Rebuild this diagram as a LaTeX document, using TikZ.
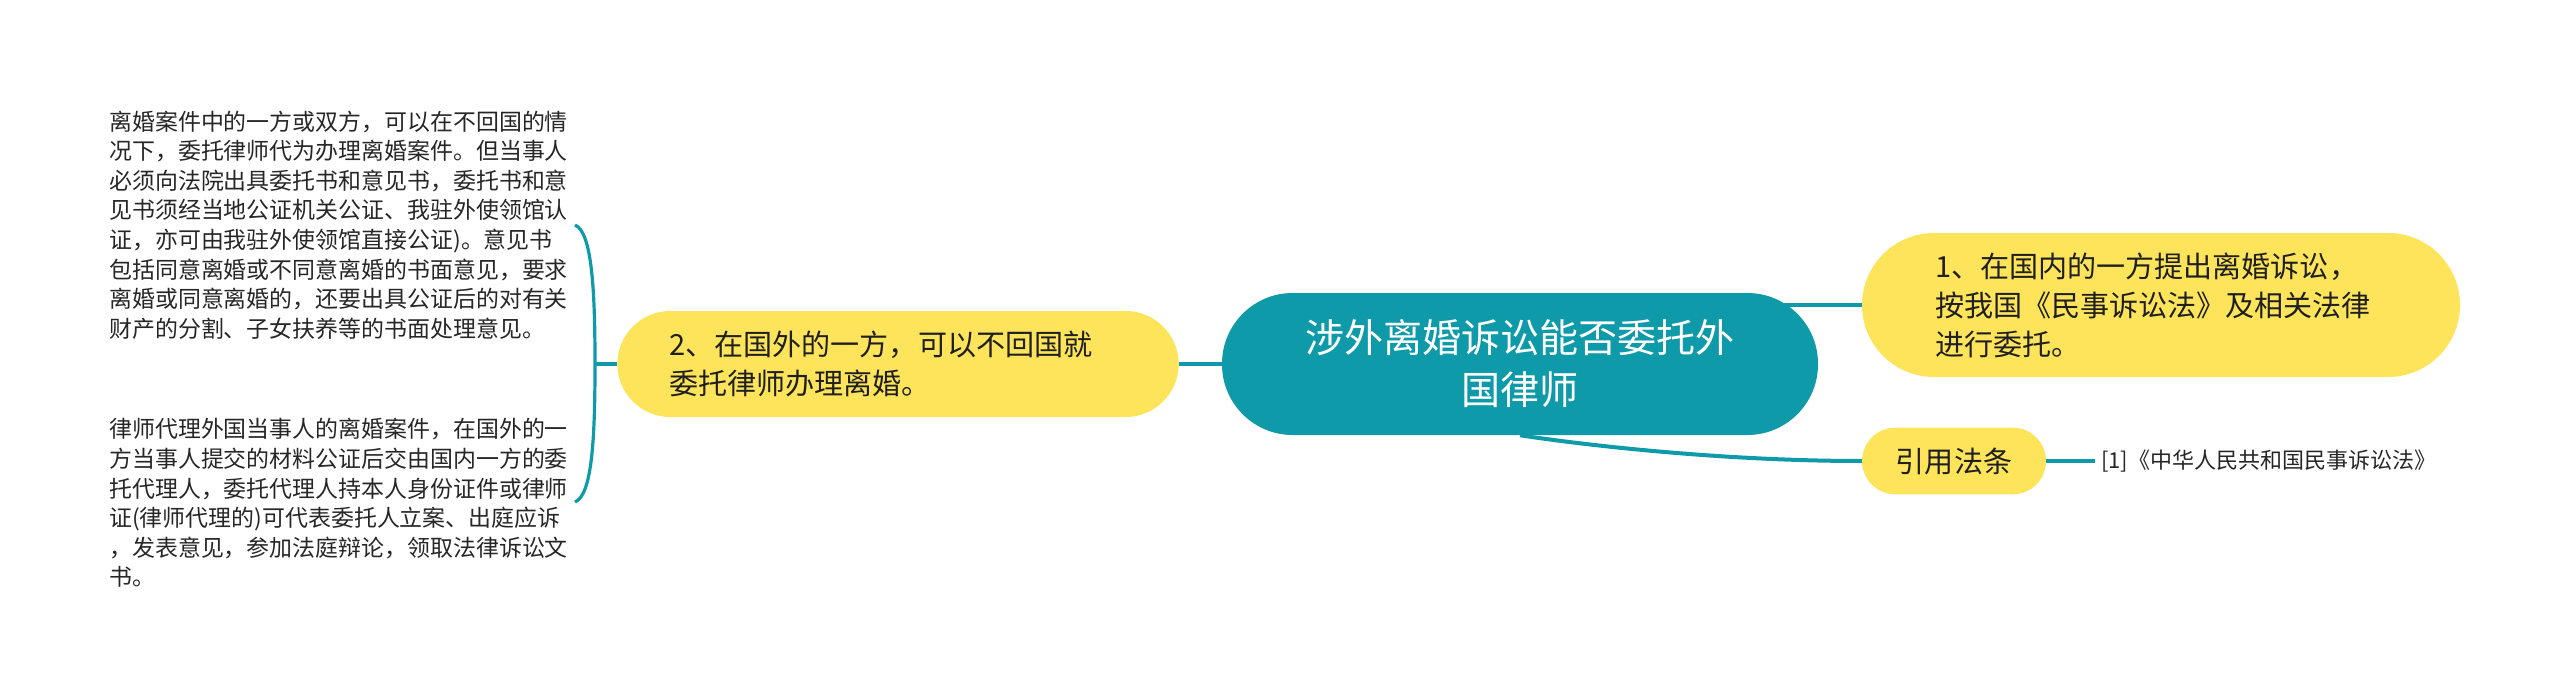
\documentclass[tikz,border=0pt]{standalone}
\usepackage{fontspec}
\setmainfont{Noto Sans CJK SC}
\usetikzlibrary{backgrounds}

\definecolor{mapteal}{HTML}{0E9AA8}
\definecolor{mapyellow}{HTML}{FDE45A}

\tikzset{
  rootbox/.style={fill=mapteal, text=white, rounded corners=53pt,
    minimum width=447pt, minimum height=106.5pt, align=center,
    font=\fontsize{29.3pt}{39pt}\selectfont},
  topicbox/.style={fill=mapyellow, text=black!88, align=left,
    font=\fontsize{21.8pt}{29.3pt}\selectfont},
  notetext/.style={inner sep=0pt, align=left, anchor=west, text=black!85,
    font=\fontsize{17.2pt}{22.2pt}\selectfont},
  link/.style={draw=mapteal, line width=3pt},
}

\begin{document}
\begin{tikzpicture}[x=0.75pt,y=-0.75pt]
\useasboundingbox (0,0) rectangle (2560,699);

% main topic
\node[rootbox] (centre) at (1520,364) {涉外离婚诉讼能否委托外\\国律师};

% branches
\node[topicbox, minimum width=448.5pt, minimum height=108pt,
      rounded corners=54pt, text width=339pt] (home) at (2161,305)
      {1、在国内的一方提出离婚诉讼，\\按我国《民事诉讼法》及相关法律\\进行委托。};
\node[topicbox, minimum width=421pt, minimum height=79.5pt,
      rounded corners=39.7pt, text width=343pt] (abroad) at (898,364)
      {2、在国外的一方，可以不回国就\\委托律师办理离婚。};
\node[topicbox, minimum width=138pt, minimum height=50pt,
      rounded corners=25pt, align=center] (cite) at (1954,461) {引用法条};
\node[anchor=west, inner sep=4.5pt, text=black!85,
      font=\fontsize{16.5pt}{20pt}\selectfont] (law) at (2095,461)
      {[1]《中华人民共和国民事诉讼法》};

% notes under branch 2
\node[notetext] (noteA) at (109,225) {离婚案件中的一方或双方，可以在不回国的情\\
况下，委托律师代为办理离婚案件。但当事人\\
必须向法院出具委托书和意见书，委托书和意\\
见书须经当地公证机关公证、我驻外使领馆认\\
证，亦可由我驻外使领馆直接公证)。意见书\\
包括同意离婚或不同意离婚的书面意见，要求\\
离婚或同意离婚的，还要出具公证后的对有关\\
财产的分割、子女扶养等的书面处理意见。};
\node[notetext] (noteB) at (109,503) {律师代理外国当事人的离婚案件，在国外的一\\
方当事人提交的材料公证后交由国内一方的委\\
托代理人，委托代理人持本人身份证件或律师\\
证(律师代理的)可代表委托人立案、出庭应诉\\
，发表意见，参加法庭辩论，领取法律诉讼文\\
书。};

\coordinate (braceA) at (575,225);
\coordinate (braceM) at (595,364);
\coordinate (braceB) at (575,502);

\begin{scope}[on background layer]
\draw[link] (abroad) -- (centre);
\draw[link] (home.west) -- (home.west -| centre);
\draw[link] (cite.west) .. controls +(-130,0) and +(80,12) .. (centre.south);
\draw[link] (cite) -- (law);
\draw[link] (abroad.west) -- (braceM);
\draw[link, line width=2.4pt] (braceA) .. controls (592,232) and (595,290) .. (braceM)
  .. controls (595,440) and (592,495) .. (braceB);
\end{scope}
\end{tikzpicture}
\end{document}
